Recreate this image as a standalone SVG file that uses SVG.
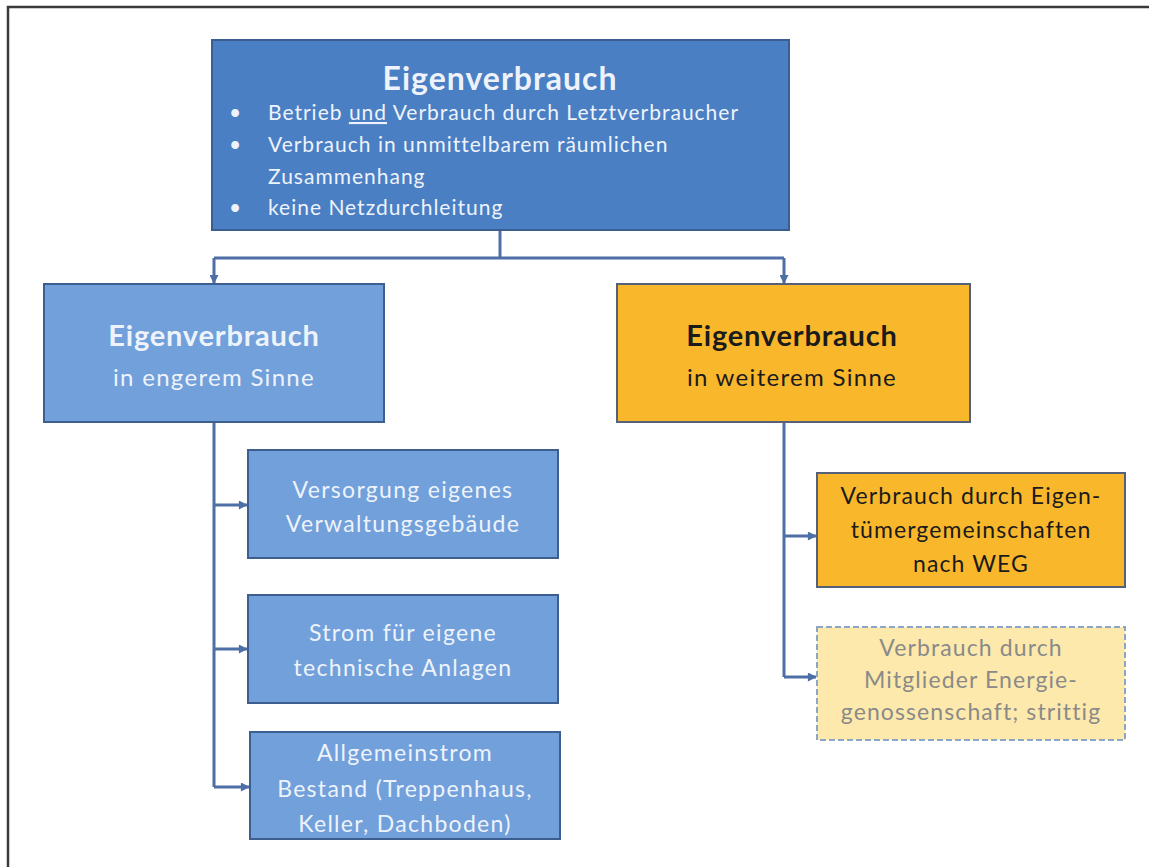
<svg xmlns="http://www.w3.org/2000/svg" width="1149" height="867" viewBox="0 0 1149 867">
  <style>
    .t { font-family: Lato, "Open Sans", "Liberation Sans", sans-serif; text-anchor: middle; }
    .w { fill: #eef3fb; }
    .k { fill: #1b1b1b; }
    .g { fill: #8a8a8a; }
    .b { font-weight: bold; }
    .head { font-size: 29px; letter-spacing: 0.8px; }
    .sub { font-size: 24px; letter-spacing: 1.3px; }
    .item { font-size: 23px; letter-spacing: 1.3px; }
    .item2 { font-size: 23px; letter-spacing: 1.1px; }
    .dark { fill: #4a7fc3; stroke: #3a5e90; stroke-width: 2; }
    .light { fill: #71a0db; stroke: #3d5f90; stroke-width: 2; }
    .amber { fill: #f9b82c; stroke: #55607a; stroke-width: 2; }
    .pale { fill: #fde9ab; stroke: #8ea6c6; stroke-width: 2; stroke-dasharray: 6 3; }
    .wire { fill: none; stroke: #4e6fa6; stroke-width: 3; }
  </style>
  <defs>
    <marker id="arrow" viewBox="0 0 10 10" refX="9" refY="5" markerWidth="10" markerHeight="9" markerUnits="userSpaceOnUse" orient="auto">
      <path d="M0,0 L10,5 L0,10 z" fill="#4e6fa6"/>
    </marker>
  </defs>
  <rect width="1149" height="867" fill="#ffffff"/>
  <!-- frame -->
  <path d="M8,867 V7 H1149" fill="none" stroke="#3a3a3a" stroke-width="2.5"/>

  <g id="connectors">
    <path class="wire" d="M500,230 V258"/>
    <path class="wire" d="M214,258 H784"/>
    <path class="wire" d="M214,258 V283" marker-end="url(#arrow)"/>
    <path class="wire" d="M784,258 V283" marker-end="url(#arrow)"/>
    <path class="wire" d="M214,422 V787"/>
    <path class="wire" d="M214,505 H247" marker-end="url(#arrow)"/>
    <path class="wire" d="M214,649 H247" marker-end="url(#arrow)"/>
    <path class="wire" d="M214,787 H249" marker-end="url(#arrow)"/>
    <path class="wire" d="M784,422 V677"/>
    <path class="wire" d="M784,536 H816" marker-end="url(#arrow)"/>
    <path class="wire" d="M784,677 H816" marker-end="url(#arrow)"/>
  </g>

  <g id="node-root">
    <rect class="dark" x="212" y="40" width="577" height="190"/>
    <text class="t w b" x="500" y="90" font-size="32" letter-spacing="1">Eigenverbrauch</text>
    <g class="w" font-family="Lato, 'Open Sans', 'Liberation Sans', sans-serif" font-size="21" letter-spacing="1">
      <text x="229" y="120">•</text>
      <text x="268" y="120">Betrieb <tspan text-decoration="underline">und</tspan> Verbrauch durch Letztverbraucher</text>
      <text x="229" y="152">•</text>
      <text x="268" y="152">Verbrauch in unmittelbarem räumlichen</text>
      <text x="268" y="184">Zusammenhang</text>
      <text x="229" y="215">•</text>
      <text x="268" y="215">keine Netzdurchleitung</text>
    </g>
  </g>

  <g id="node-narrow">
    <rect class="light" x="44" y="284" width="340" height="138"/>
    <text class="t w b head" x="214" y="346">Eigenverbrauch</text>
    <text class="t w sub" x="214" y="386">in engerem Sinne</text>
  </g>

  <g id="node-wide">
    <rect class="amber" x="617" y="284" width="353" height="138"/>
    <text class="t k b head" x="792" y="346">Eigenverbrauch</text>
    <text class="t k sub" x="792" y="386">in weiterem Sinne</text>
  </g>

  <g id="node-admin">
    <rect class="light" x="248" y="450" width="310" height="108"/>
    <text class="t w item" x="403" y="498">Versorgung eigenes</text>
    <text class="t w item" x="403" y="532">Verwaltungsgebäude</text>
  </g>

  <g id="node-technical">
    <rect class="light" x="248" y="595" width="310" height="108"/>
    <text class="t w item" x="403" y="641">Strom für eigene</text>
    <text class="t w item" x="403" y="676">technische Anlagen</text>
  </g>

  <g id="node-common">
    <rect class="light" x="250" y="732" width="310" height="107"/>
    <text class="t w item" x="405" y="761">Allgemeinstrom</text>
    <text class="t w item" x="405" y="797">Bestand (Treppenhaus,</text>
    <text class="t w item" x="405" y="832">Keller, Dachboden)</text>
  </g>

  <g id="node-weg">
    <rect class="amber" x="817" y="473" width="308" height="114"/>
    <text class="t k item2" x="971" y="504">Verbrauch durch Eigen-</text>
    <text class="t k item2" x="971" y="538">tümergemeinschaften</text>
    <text class="t k item2" x="971" y="572">nach WEG</text>
  </g>

  <g id="node-coop">
    <rect class="pale" x="817" y="627" width="308" height="113"/>
    <text class="t g item2" x="971" y="656">Verbrauch durch</text>
    <text class="t g item2" x="971" y="688">Mitglieder Energie-</text>
    <text class="t g item2" x="971" y="720">genossenschaft; strittig</text>
  </g>
</svg>
